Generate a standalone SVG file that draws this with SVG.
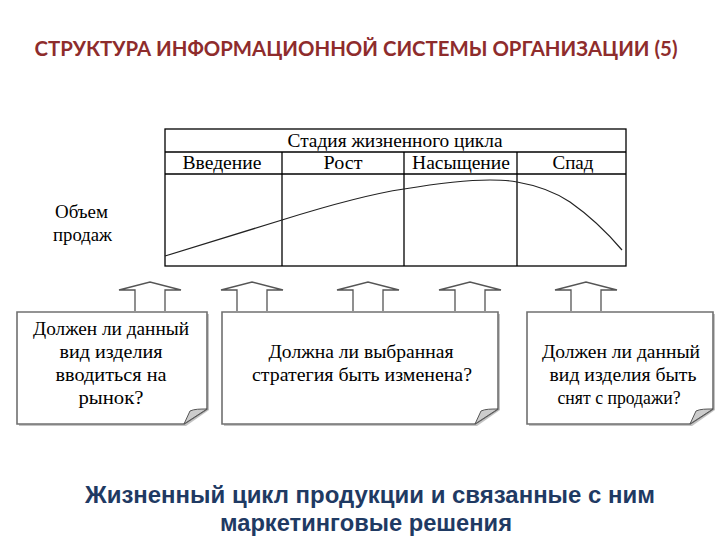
<svg xmlns="http://www.w3.org/2000/svg" width="720" height="540" viewBox="0 0 720 540">
<defs>
<style>
.ser{font-family:"Liberation Serif","Times New Roman",serif;fill:#000;font-size:18px}
.tbl{fill:none;stroke:#000;stroke-width:1.3}
.box{fill:#fff;stroke:#707070;stroke-width:1.6}
.shadow{fill:#888;opacity:0.5}
.arr{fill:#fff;stroke:#555;stroke-width:1.3}
.fold{fill:#ccc;stroke:#555;stroke-width:1}
.cap{font-family:"Liberation Sans",Arial,sans-serif;font-weight:bold;font-size:23px;fill:#1f3a63}
</style>
</defs>
<rect width="720" height="540" fill="#fff"/>
<text x="356" y="56" text-anchor="middle" font-family="Lato,'Open Sans',sans-serif" font-weight="bold" font-size="21" fill="#8e2c2c" textLength="643" lengthAdjust="spacingAndGlyphs">СТРУКТУРА ИНФОРМАЦИОННОЙ СИСТЕМЫ ОРГАНИЗАЦИИ (5)</text>

<g id="chart">
<rect class="tbl" x="165" y="129" width="461" height="137"/>
<line class="tbl" x1="165" y1="152" x2="626" y2="152"/>
<line class="tbl" x1="165" y1="174" x2="626" y2="174"/>
<line class="tbl" x1="282" y1="152" x2="282" y2="266"/>
<line class="tbl" x1="404" y1="152" x2="404" y2="266"/>
<line class="tbl" x1="517" y1="152" x2="517" y2="266"/>
<text class="ser" x="395" y="147" text-anchor="middle" textLength="215" lengthAdjust="spacingAndGlyphs">Стадия жизненного цикла</text>
<text class="ser" x="222" y="169" text-anchor="middle" textLength="79" lengthAdjust="spacingAndGlyphs">Введение</text>
<text class="ser" x="343" y="169" text-anchor="middle" textLength="39" lengthAdjust="spacingAndGlyphs">Рост</text>
<text class="ser" x="461" y="169" text-anchor="middle" textLength="98" lengthAdjust="spacingAndGlyphs">Насыщение</text>
<text class="ser" x="573" y="169" text-anchor="middle" textLength="41" lengthAdjust="spacingAndGlyphs">Спад</text>
<path d="M165,256 C210,242 250,230 282,220 C330,205 370,194 404,189 C440,183 470,180 490,180 C505,180 512,181 517,182 C540,186 555,192 570,202 C590,216 605,230 622,250" fill="none" stroke="#222" stroke-width="1.2"/>
<text class="ser" x="55" y="218" textLength="53" lengthAdjust="spacingAndGlyphs">Объем</text>
<text class="ser" x="53" y="241" textLength="59" lengthAdjust="spacingAndGlyphs">продаж</text>
</g>

<g id="connectors">
<path class="arr" d="M135,311 V290 H119 L150,282 L181,290 H165 V311"/>
<path class="arr" d="M237,311 V290 H221 L252,282 L283,290 H267 V311"/>
<path class="arr" d="M353,311 V290 H337 L368,282 L399,290 H383 V311"/>
<path class="arr" d="M455,311 V290 H439 L470,282 L501,290 H485 V311"/>
<path class="arr" d="M571,311 V290 H555 L586,282 L617,290 H601 V311"/>
</g>

<g id="box1">
<path class="shadow" d="M19,314 H209 V410 L186,426 H19 Z"/>
<path class="box" d="M17,312 H207 V409 L184,424 H17 Z"/>
<path class="fold" d="M207,409 C200,409 194,409 190,411 L184,424 Z"/>
<text class="ser" x="111" y="335" text-anchor="middle" textLength="156" lengthAdjust="spacingAndGlyphs">Должен ли данный</text>
<text class="ser" x="111" y="358" text-anchor="middle" textLength="103" lengthAdjust="spacingAndGlyphs">вид изделия</text>
<text class="ser" x="111" y="381" text-anchor="middle" textLength="111" lengthAdjust="spacingAndGlyphs">вводиться на</text>
<text class="ser" x="111" y="404" text-anchor="middle" textLength="65" lengthAdjust="spacingAndGlyphs">рынок?</text>
</g>

<g id="box2">
<path class="shadow" d="M224,314 H500 V410 L477,426 H224 Z"/>
<path class="box" d="M222,312 H498 V409 L475,424 H222 Z"/>
<path class="fold" d="M498,409 C491,409 485,409 481,411 L475,424 Z"/>
<text class="ser" x="361" y="358" text-anchor="middle" textLength="185" lengthAdjust="spacingAndGlyphs">Должна ли выбранная</text>
<text class="ser" x="362" y="381" text-anchor="middle" textLength="220" lengthAdjust="spacingAndGlyphs">стратегия быть изменена?</text>
</g>

<g id="box3">
<path class="shadow" d="M529,314 H715 V410 L692,426 H529 Z"/>
<path class="box" d="M527,312 H713 V409 L690,424 H527 Z"/>
<path class="fold" d="M713,409 C706,409 700,409 696,411 L690,424 Z"/>
<text class="ser" x="621" y="358" text-anchor="middle" textLength="158" lengthAdjust="spacingAndGlyphs">Должен ли данный</text>
<text class="ser" x="623" y="381" text-anchor="middle" textLength="147" lengthAdjust="spacingAndGlyphs">вид изделия быть</text>
<text class="ser" x="619" y="404" text-anchor="middle" textLength="123" lengthAdjust="spacingAndGlyphs">снят с продажи?</text>
</g>

<text class="cap" x="370" y="503" text-anchor="middle" textLength="570" lengthAdjust="spacingAndGlyphs">Жизненный цикл продукции и связанные с ним</text>
<text class="cap" x="366" y="531" text-anchor="middle" textLength="292" lengthAdjust="spacingAndGlyphs">маркетинговые решения</text>
</svg>
